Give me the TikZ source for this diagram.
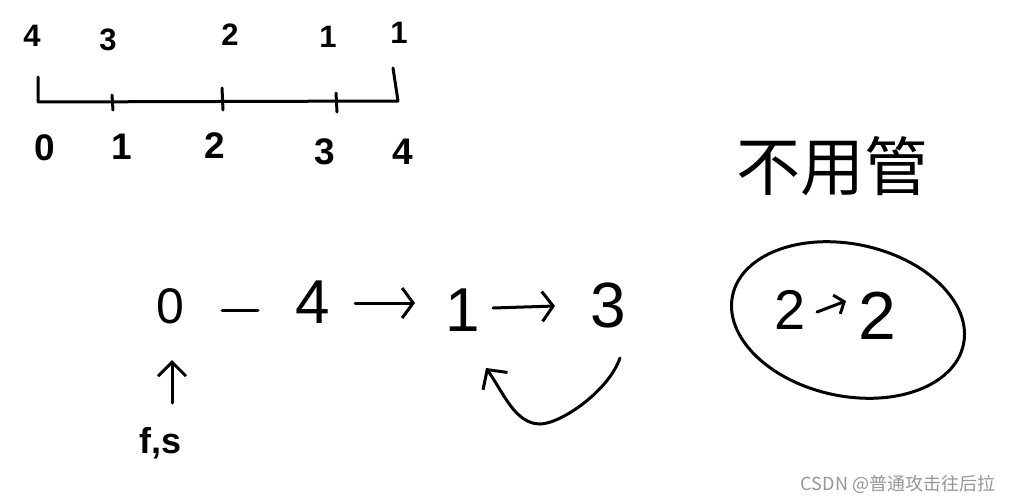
\documentclass[tikz,border=0pt]{standalone}
\usepackage{fontspec}
\setmainfont{Liberation Sans}
\newfontfamily\cjk{Noto Sans CJK SC}
\usetikzlibrary{arrows.meta}
\definecolor{wm}{RGB}{150,150,150}
\tikzset{
  stroke/.style={line width=3pt, line cap=round, line join=round},
  lbl/.style={inner sep=0pt, font=\fontsize{#1}{#1}\selectfont},
  blbl/.style={inner sep=0pt, font=\bfseries\fontsize{#1}{#1}\selectfont},
  barb/.style={-{Straight Barb[length=11pt,width=30pt,line width=3pt]}},
}
\begin{document}
\begin{tikzpicture}[x=1pt,y=-1pt]
\useasboundingbox[fill=white] (0,0) rectangle (1019,503);
% top number line
\node[blbl=31] (t4) at (32,36) {4};
\node[blbl=31] (t3) at (108,40) {3};
\node[blbl=31] (t2) at (230,35) {2};
\node[blbl=31] (t1a) at (328,37) {1};
\node[blbl=31] (t1b) at (399,33) {1};
\draw[stroke] (38,77) -- (38,102) -- (398,101) -- (393,68);
\draw[stroke] (112,95) -- (113,110);
\draw[stroke] (222,88) -- (223,110);
\draw[stroke] (336,93) -- (337,112);
\node[blbl=37] (b0) at (45,148) {0};
\node[blbl=37] (b1) at (122,147) {1};
\node[blbl=37] (b2) at (215,146) {2};
\node[blbl=37] (b3) at (325,152) {3};
\node[blbl=37] (b4) at (403,152) {4};
% middle chain
\node[lbl=50] (m0) at (170,306) {0};
\node[lbl=62] (m4) at (313,302) {4};
\node[lbl=62] (m1) at (463,310) {1};
\node[lbl=64] (m3) at (608,305) {3};
\node[blbl=36] (fs) at (161,443) {f,s};
\coordinate (d0) at (222,310);
\coordinate (d1) at (258,310);
\draw[stroke] (d0) -- (d1);
\coordinate (a0) at (355,303);
\coordinate (a1) at (415,303);
\draw[stroke,barb] (a0) -- (a1);
\coordinate (a2) at (493,308);
\coordinate (a3) at (555,306);
\draw[stroke,barb] (a2) -- (a3);
\coordinate (u0) at (172,403);
\coordinate (u1) at (172,360);
\draw[stroke,-{Straight Barb[length=14pt,width=28pt,line width=3pt]}] (u0) -- (u1);
\coordinate (c0) at (620,358);
\coordinate (c1) at (540,424);
\coordinate (c2) at (486,368);
\draw[stroke,-{Straight Barb[length=14pt,width=30pt,line width=3pt]}]
  (c0) .. controls (608,392) and (560,424) .. (c1)
  .. controls (515,424) and (503,392) .. (c2);
% right group
\node[inner sep=0pt, font=\cjk\fontsize{64}{64}\selectfont] (bg) at (832,166) {不用管};
\draw[stroke] (848,320) ellipse[x radius=118, y radius=76, rotate=-12];
\node[lbl=56] (two1) at (790,310) {2};
\node[lbl=68] (two2) at (877,316) {2};
\coordinate (e0) at (817,312);
\coordinate (e1) at (846,301);
\draw[stroke,-{Straight Barb[length=8pt,width=20pt,line width=3pt]}] (e0) -- (e1);
% watermark
\node[inner sep=0pt, text=wm, font=\cjk\fontsize{18}{18}\selectfont] (wmk) at (898,484) {CSDN @普通攻击往后拉};
\end{tikzpicture}
\end{document}
